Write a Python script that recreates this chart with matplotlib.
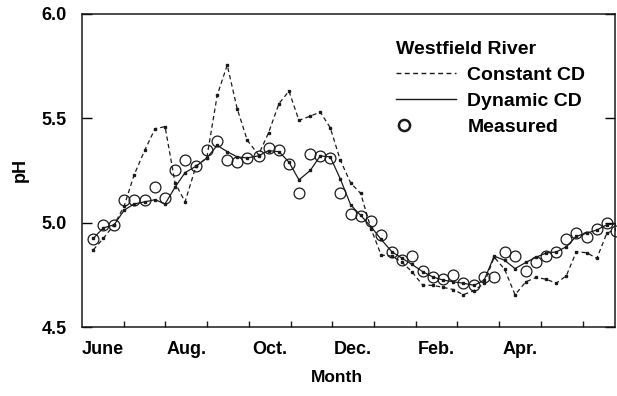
import matplotlib
matplotlib.use("Agg")
import matplotlib.pyplot as plt
from matplotlib.lines import Line2D
from matplotlib.legend_handler import HandlerLine2D
import numpy as np

# sample times, in months after June 1
t = [0.27, 0.51, 0.77, 1.01, 1.25, 1.51, 1.75, 1.99, 2.23, 2.47, 2.73, 2.99, 3.24,
     3.48, 3.72, 3.96, 4.23, 4.47, 4.72, 4.96, 5.20, 5.47, 5.71, 5.95, 6.19, 6.44,
     6.68, 6.93, 7.17, 7.43, 7.67, 7.91, 8.17, 8.41, 8.66, 8.90, 9.14, 9.40, 9.64,
     9.88, 10.13, 10.38, 10.64, 10.89, 11.13, 11.37, 11.61, 11.85, 12.10, 12.34,
     12.58, 12.81]

measured = [4.92, 4.99, 4.99, 5.11, 5.11, 5.11, 5.17, 5.12, 5.25, 5.30, 5.27, 5.35,
            5.39, 5.30, 5.29, 5.31, 5.32, 5.36, 5.35, 5.28, 5.14, 5.33, 5.32, 5.31,
            5.14, 5.04, 5.03, 5.01, 4.94, 4.86, 4.82, 4.84, 4.77, 4.74, 4.73, 4.75,
            4.71, 4.70, 4.74, 4.74, 4.86, 4.84, 4.77, 4.81, 4.84, 4.86, 4.92, 4.95,
            4.93, 4.97, 5.00, 4.96]

dynamic_cd = [4.925, 4.975, 4.99, 5.06, 5.09, 5.10, 5.11, 5.09, 5.17, 5.24, 5.27,
              5.31, 5.37, 5.34, 5.315, 5.31, 5.32, 5.345, 5.34, 5.29, 5.205, 5.25,
              5.32, 5.315, 5.21, 5.085, 5.035, 4.98, 4.92, 4.86, 4.83, 4.80, 4.765,
              4.74, 4.725, 4.717, 4.71, 4.70, 4.725, 4.84, 4.82, 4.78, 4.81, 4.835,
              4.855, 4.86, 4.885, 4.935, 4.95, 4.965, 4.99, 4.995]

constant_cd = [4.87, 4.925, 4.99, 5.08, 5.23, 5.35, 5.45, 5.46, 5.19, 5.10, 5.27,
               5.31, 5.61, 5.755, 5.545, 5.395, 5.325, 5.43, 5.57, 5.63, 5.49, 5.51,
               5.53, 5.455, 5.30, 5.19, 5.14, 4.97, 4.845, 4.84, 4.81, 4.765, 4.70,
               4.70, 4.69, 4.68, 4.655, 4.675, 4.71, 4.835, 4.777, 4.655, 4.717,
               4.738, 4.729, 4.71, 4.746, 4.861, 4.856, 4.829, 4.949, 4.97]

month_labels = ["June", "Aug.", "Oct.", "Dec.", "Feb.", "Apr."]
month_label_pos = [0.5, 2.5, 4.5, 6.5, 8.5, 10.5]
month_ticks = [1, 2, 3, 4, 5, 6, 7, 8, 9, 10, 11, 12]

plt.rcParams['font.family'] = ['Liberation Sans', 'DejaVu Sans']
plt.rcParams['font.weight'] = 'bold'
ink = '#1a1a1a'

fig = plt.figure(figsize=(6.17, 3.96), dpi=100)
ax = fig.add_axes([0.133, 0.174, 0.864, 0.791])

ax.plot(t, constant_cd, color=ink, lw=0.9, ls=(0, (3.5, 2.5)),
        marker='s', ms=2.0, mec=ink, mfc=ink, label='Constant CD')
ax.plot(t, dynamic_cd, color=ink, lw=0.9, ls='-',
        marker='s', ms=2.0, mec=ink, mfc=ink, label='Dynamic CD')
ax.plot(t, measured, ls='none', marker='o', ms=7.8, mfc='none', mec=ink,
        mew=0.9, clip_on=False, label='Measured')

ax.set_xlim(0, 12.78)
ax.set_ylim(4.5, 6.0)
ax.set_yticks([4.5, 5.0, 5.5, 6.0])
ax.set_yticklabels(['4.5', '5.0', '5.5', '6.0'])
ax.set_xticks(month_ticks)
ax.set_xticklabels([])
ax.set_xticks(month_label_pos, minor=True)
ax.set_xticklabels(month_labels, minor=True)
ax.tick_params(axis='x', which='major', direction='in', length=4, width=1, colors=ink)
ax.tick_params(axis='x', which='minor', length=0, pad=10, labelsize=13)
ax.tick_params(axis='y', direction='in', length=7, width=1, right=True,
               labelsize=13, pad=11)
for s in ax.spines.values():
    s.set_linewidth(1.1)
    s.set_color(ink)

ax.set_xlabel('Month', fontsize=12.5, fontweight='bold', labelpad=9, x=0.478)
ax.set_ylabel('pH', fontsize=13, fontweight='bold', labelpad=9)


class LeftMarker(HandlerLine2D):
    def create_artists(self, legend, orig_handle, xdescent, ydescent,
                       width, height, fontsize, trans):
        arts = super().create_artists(legend, orig_handle, xdescent, ydescent,
                                      width, height, fontsize, trans)
        for a in arts:
            a.set_xdata(np.full(3, 0.12 * width - xdescent))
        return arts


h_const = Line2D([], [], color=ink, lw=1.0, ls=(0, (3.5, 2.5)))
h_dyn = Line2D([], [], color=ink, lw=1.0, ls='-')
h_meas = Line2D([], [], ls='none', marker='o', ms=8, mfc='none', mec=ink, mew=1.8)
leg = ax.legend([h_const, h_dyn, h_meas], ['Constant CD', 'Dynamic CD', 'Measured'],
                title='Westfield River', loc='upper left',
                bbox_to_anchor=(0.557, 0.968), frameon=False,
                handlelength=3.05, handletextpad=0.6, labelspacing=0.42,
                alignment='left', fontsize=14,
                title_fontproperties={'weight': 'bold', 'size': 14},
                handler_map={h_meas: LeftMarker(numpoints=1)})
for txt in leg.get_texts():
    txt.set_fontweight('bold')

fig.savefig('out.png', dpi=100)
